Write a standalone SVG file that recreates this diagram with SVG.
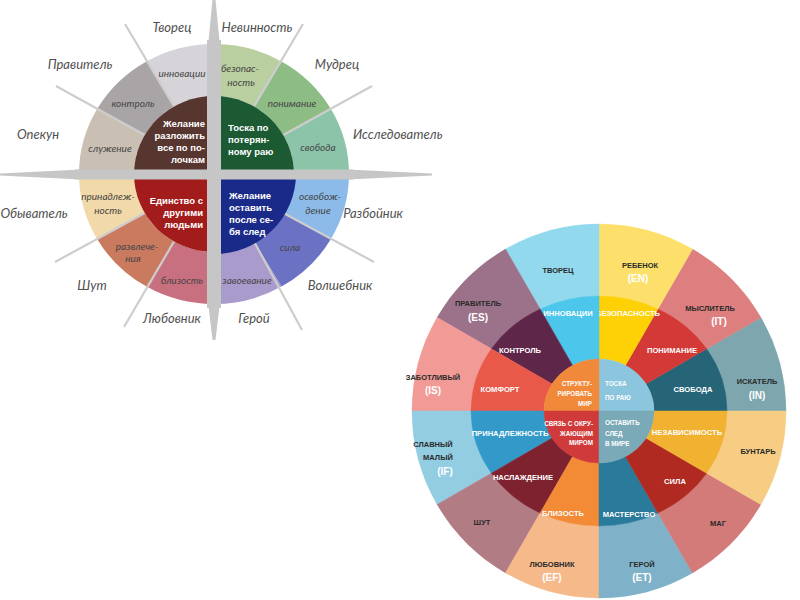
<svg xmlns="http://www.w3.org/2000/svg" width="800" height="600" viewBox="0 0 800 600">
<style>
.lo{font-family:Lato,"Open Sans","DejaVu Sans",sans-serif;font-style:italic;font-size:13px;fill:#505050;text-anchor:middle}
.li{font-family:Lato,"Open Sans","DejaVu Sans",sans-serif;font-style:italic;font-size:10px;fill:#454545;text-anchor:middle}
.lc{font-family:"Liberation Sans",Arial,sans-serif;font-weight:bold;font-size:9.5px;fill:#fff}
.ro{font-family:"Liberation Sans",Arial,sans-serif;font-weight:bold;font-size:7.5px;fill:#2a2a2a;text-anchor:middle}
.rc{font-family:"Liberation Sans",Arial,sans-serif;font-weight:bold;font-size:10px;fill:#fff;text-anchor:middle}
.rm{font-family:"Liberation Sans",Arial,sans-serif;font-weight:bold;font-size:7.6px;fill:#fff;text-anchor:middle}
.rx{font-family:"Liberation Sans",Arial,sans-serif;font-weight:bold;font-size:6.3px;fill:#fff}
.bar{fill:#c6c6c6}
.spoke{stroke:#cdcdcd;stroke-width:2.2;fill:none}
</style>
<rect width="800" height="600" fill="#fff"/>

<g id="left-wheel">
  <g id="cross">
    <polygon class="bar" points="208,46 220,46 215.5,0 212.5,0"/>
    <polygon class="bar" points="208,302 220,302 215.5,340 212.5,340"/>
    <polygon class="bar" points="81,169.5 81,179.5 0,175.5 0,173.5"/>
    <polygon class="bar" points="347,169.5 347,179.5 432,175.5 432,173.5"/>
  </g>
  <g id="l-sluzhenie"><path d="M97.1 109 A135 130 0 0 0 79 174 L134 174 A80 78 0 0 1 144.7 135 Z" fill="#c9bfb3"/><text class="li" x="110" y="151.5">служение</text></g>
  <g id="l-kontrol"><path d="M146.5 61.4 A135 130 0 0 0 97.1 109 L144.7 135 A80 78 0 0 1 174 106.5 Z" fill="#a9a5a7"/><text class="li" x="133" y="106.5">контроль</text></g>
  <g id="l-innovacii"><path d="M214 44 A135 130 0 0 0 146.5 61.4 L174 106.5 A80 78 0 0 1 214 96 Z" fill="#d6d4d8"/><text class="li" x="182" y="76.5">инновации</text></g>
  <g id="l-bezopasnost"><path d="M281.5 61.4 A135 130 0 0 0 214 44 L214 96 A80 78 0 0 1 254 106.5 Z" fill="#bacf9f"/><text class="li" x="240" y="71.5">безопас-</text><text class="li" x="241" y="85.5">ность</text></g>
  <g id="l-ponimanie"><path d="M330.9 109 A135 130 0 0 0 281.5 61.4 L254 106.5 A80 78 0 0 1 283.3 135 Z" fill="#8dbc84"/><text class="li" x="292" y="106.5">понимание</text></g>
  <g id="l-svoboda"><path d="M349 174 A135 130 0 0 0 330.9 109 L283.3 135 A80 78 0 0 1 294 174 Z" fill="#8cc4a9"/><text class="li" x="318" y="150.5">свобода</text></g>
  <g id="l-osvobozhdenie"><path d="M330.9 239 A135 130 0 0 0 349 174 L294 174 A80 78 0 0 1 283.3 213 Z" fill="#8cbbe9"/><text class="li" x="320" y="200">освобож-</text><text class="li" x="318" y="213.5">дение</text></g>
  <g id="l-sila"><path d="M281.5 286.6 A135 130 0 0 0 330.9 239 L283.3 213 A80 78 0 0 1 254 241.5 Z" fill="#6b72c3"/><text class="li" x="290" y="250.5">сила</text></g>
  <g id="l-zavoevanie"><path d="M214 304 A135 130 0 0 0 281.5 286.6 L254 241.5 A80 78 0 0 1 214 252 Z" fill="#a99bcc"/><text class="li" x="247" y="283.5">завоевание</text></g>
  <g id="l-blizost"><path d="M146.5 286.6 A135 130 0 0 0 214 304 L214 252 A80 78 0 0 1 174 241.5 Z" fill="#c8707f"/><text class="li" x="182" y="283.5">близость</text></g>
  <g id="l-razvlecheniya"><path d="M97.1 239 A135 130 0 0 0 146.5 286.6 L174 241.5 A80 78 0 0 1 144.7 213 Z" fill="#c97a5f"/><text class="li" x="137" y="249.5">развлече-</text><text class="li" x="133" y="262">ния</text></g>
  <g id="l-prinadlezhnost"><path d="M79 174 A135 130 0 0 0 97.1 239 L144.7 213 A80 78 0 0 1 134 174 Z" fill="#f2d9a9"/><text class="li" x="108" y="200">принадлеж-</text><text class="li" x="108" y="213.5">ность</text></g>

  <g id="spokes">
    <line class="spoke" x1="283.3" y1="135" x2="372" y2="86"/>
    <line class="spoke" x1="254" y1="106.5" x2="303" y2="24"/>
    <line class="spoke" x1="174" y1="106.5" x2="125" y2="24"/>
    <line class="spoke" x1="144.7" y1="135" x2="56" y2="86"/>
    <line class="spoke" x1="144.7" y1="213" x2="55" y2="262"/>
    <line class="spoke" x1="174" y1="241.5" x2="124" y2="327"/>
    <line class="spoke" x1="254" y1="241.5" x2="302" y2="330"/>
    <line class="spoke" x1="283.3" y1="213" x2="374" y2="262"/>
  </g>

  <g id="l-core-tl"><path d="M214 174 L134 174 A80 78 0 0 1 214 96 Z" fill="#573630"/>
    <text class="lc" text-anchor="end" x="205" y="127">Желание</text><text class="lc" text-anchor="end" x="205" y="139">разложить</text><text class="lc" text-anchor="end" x="205" y="151">все по по-</text><text class="lc" text-anchor="end" x="205" y="163">лочкам</text></g>
  <g id="l-core-tr"><path d="M214 174 L214 96 A80 78 0 0 1 294 174 Z" fill="#1b5a33"/>
    <text class="lc" x="228" y="131">Тоска по</text><text class="lc" x="228" y="143">потерян-</text><text class="lc" x="228" y="155">ному раю</text></g>
  <g id="l-core-br"><path d="M214 174 L296 174 A82 80 0 0 1 214 254 Z" fill="#1a2a88"/>
    <text class="lc" x="229" y="199">Желание</text><text class="lc" x="229" y="211">оставить</text><text class="lc" x="229" y="223">после се-</text><text class="lc" x="229" y="235">бя след</text></g>
  <g id="l-core-bl"><path d="M214 174 L214 252 A80 78 0 0 1 134 174 Z" fill="#a31c1c"/>
    <text class="lc" text-anchor="end" x="203" y="204">Единство с</text><text class="lc" text-anchor="end" x="203" y="216">другими</text><text class="lc" text-anchor="end" x="203" y="228">людьми</text></g>

  <g id="cross-inner">
    <rect class="bar" x="207" y="40" width="14" height="268"/>
    <rect class="bar" x="75" y="169.5" width="278" height="10"/>
  </g>

  <g id="l-labels">
    <text class="lo" x="172" y="31.5">Творец</text>
    <text class="lo" x="257" y="31.5">Невинность</text>
    <text class="lo" x="80" y="68.5">Правитель</text>
    <text class="lo" x="337" y="68.5">Мудрец</text>
    <text class="lo" x="38" y="138.5">Опекун</text>
    <text class="lo" style="text-anchor:start" x="353" y="138.5">Исследователь</text>
    <text class="lo" x="34" y="217.5">Обыватель</text>
    <text class="lo" x="373" y="217.5">Разбойник</text>
    <text class="lo" x="92" y="289.5">Шут</text>
    <text class="lo" x="340" y="289.5">Волшебник</text>
    <text class="lo" x="172" y="322.5">Любовник</text>
    <text class="lo" x="254" y="322.5">Герой</text>
  </g>
</g>

<g id="right-wheel">
  <g id="r-iskatel"><path d="M786 411 A187 187 0 0 0 760.9 317.5 L706.7 348.8 A128 115 0 0 1 727 411 Z" fill="#7ea6ae" stroke="#7ea6ae" stroke-width="0.5"/><text class="ro" x="757" y="383.7">ИСКАТЕЛЬ</text><text class="rc" x="757" y="398.6">(IN)</text></g>
  <g id="r-myslitel"><path d="M760.9 317.5 A187 187 0 0 0 692.5 249.1 L657.9 308.9 A128 115 0 0 1 706.7 348.8 Z" fill="#de7f7f" stroke="#de7f7f" stroke-width="0.5"/><text class="ro" x="710" y="310.7">МЫСЛИТЕЛЬ</text><text class="rc" x="719" y="324.6">(IT)</text></g>
  <g id="r-rebenok"><path d="M692.5 249.1 A187 187 0 0 0 599 224 L599 296 A128 115 0 0 1 657.9 308.9 Z" fill="#fde06c" stroke="#fde06c" stroke-width="0.5"/><text class="ro" x="640" y="267.7">РЕБЕНОК</text><text class="rc" x="638" y="281.6">(EN)</text></g>
  <g id="r-tvorec"><path d="M599 224 A187 187 0 0 0 505.5 249.1 L540.1 308.9 A128 115 0 0 1 599 296 Z" fill="#92d9ee" stroke="#92d9ee" stroke-width="0.5"/><text class="ro" x="558" y="272.7">ТВОРЕЦ</text></g>
  <g id="r-pravitel"><path d="M505.5 249.1 A187 187 0 0 0 437.1 317.5 L491.3 348.8 A128 115 0 0 1 540.1 308.9 Z" fill="#9b7289" stroke="#9b7289" stroke-width="0.5"/><text class="ro" x="478" y="305.7">ПРАВИТЕЛЬ</text><text class="rc" x="478" y="320.6">(ES)</text></g>
  <g id="r-zabotlivyi"><path d="M437.1 317.5 A187 187 0 0 0 412 411 L471 411 A128 115 0 0 1 491.3 348.8 Z" fill="#f19a96" stroke="#f19a96" stroke-width="0.5"/><text class="ro" x="433" y="379.7">ЗАБОТЛИВЫЙ</text><text class="rc" x="433" y="393.6">(IS)</text></g>
  <g id="r-slavnyi"><path d="M412 411 A187 187 0 0 0 437.1 504.5 L491.3 473.2 A128 115 0 0 1 471 411 Z" fill="#92cde2" stroke="#92cde2" stroke-width="0.5"/><text class="ro" x="433" y="446.7">СЛАВНЫЙ</text><text class="ro" x="438" y="459.7">МАЛЫЙ</text><text class="rc" x="445" y="474.6">(IF)</text></g>
  <g id="r-shut"><path d="M437.1 504.5 A187 187 0 0 0 505.5 572.9 L540.1 513.1 A128 115 0 0 1 491.3 473.2 Z" fill="#b27c84" stroke="#b27c84" stroke-width="0.5"/><text class="ro" x="482" y="524.7">ШУТ</text></g>
  <g id="r-lyubovnik"><path d="M505.5 572.9 A187 187 0 0 0 599 598 L599 526 A128 115 0 0 1 540.1 513.1 Z" fill="#f6b98a" stroke="#f6b98a" stroke-width="0.5"/><text class="ro" x="552" y="566.7">ЛЮБОВНИК</text><text class="rc" x="552" y="580.6">(EF)</text></g>
  <g id="r-geroi"><path d="M599 598 A187 187 0 0 0 692.5 572.9 L657.9 513.1 A128 115 0 0 1 599 526 Z" fill="#7fb2c8" stroke="#7fb2c8" stroke-width="0.5"/><text class="ro" x="642" y="566.7">ГЕРОЙ</text><text class="rc" x="642" y="580.6">(ET)</text></g>
  <g id="r-mag"><path d="M692.5 572.9 A187 187 0 0 0 760.9 504.5 L706.7 473.2 A128 115 0 0 1 657.9 513.1 Z" fill="#d37b78" stroke="#d37b78" stroke-width="0.5"/><text class="ro" x="718" y="525.7">МАГ</text></g>
  <g id="r-buntar"><path d="M760.9 504.5 A187 187 0 0 0 786 411 L727 411 A128 115 0 0 1 706.7 473.2 Z" fill="#f6cd82" stroke="#f6cd82" stroke-width="0.5"/><text class="ro" x="758" y="453.7">БУНТАРЬ</text></g>

  <g id="r-svoboda"><path d="M727 411 A128 115 0 0 0 706.7 348.8 L645.9 383.9 A55 52 0 0 1 654 411 Z" fill="#256577" stroke="#256577" stroke-width="0.5"/><text class="rm" x="693" y="392">СВОБОДА</text></g>
  <g id="r-ponimanie"><path d="M706.7 348.8 A128 115 0 0 0 657.9 308.9 L625.4 365.4 A55 52 0 0 1 645.9 383.9 Z" fill="#d33a37" stroke="#d33a37" stroke-width="0.5"/><text class="rm" x="672" y="353">ПОНИМАНИЕ</text></g>
  <g id="r-bezopasnost"><path d="M657.9 308.9 A128 115 0 0 0 599 296 L599 359 A55 52 0 0 1 625.4 365.4 Z" fill="#fdd106" stroke="#fdd106" stroke-width="0.5"/><text class="rm" x="628" y="316">БЕЗОПАСНОСТЬ</text></g>
  <g id="r-innovacii"><path d="M599 296 A128 115 0 0 0 540.1 308.9 L572.6 365.4 A55 52 0 0 1 599 359 Z" fill="#4cc6ea" stroke="#4cc6ea" stroke-width="0.5"/><text class="rm" x="568" y="316">ИННОВАЦИИ</text></g>
  <g id="r-kontrol"><path d="M540.1 308.9 A128 115 0 0 0 491.3 348.8 L552.1 383.9 A55 52 0 0 1 572.6 365.4 Z" fill="#5e2648" stroke="#5e2648" stroke-width="0.5"/><text class="rm" x="520" y="353">КОНТРОЛЬ</text></g>
  <g id="r-komfort"><path d="M491.3 348.8 A128 115 0 0 0 471 411 L544 411 A55 52 0 0 1 552.1 383.9 Z" fill="#e9594a" stroke="#e9594a" stroke-width="0.5"/><text class="rm" x="500" y="392">КОМФОРТ</text></g>
  <g id="r-prinadlezhnost"><path d="M471 411 A128 115 0 0 0 491.3 473.2 L552.1 438.1 A55 52 0 0 1 544 411 Z" fill="#3399c9" stroke="#3399c9" stroke-width="0.5"/><text class="rm" x="510" y="436">ПРИНАДЛЕЖНОСТЬ</text></g>
  <g id="r-naslazhdenie"><path d="M491.3 473.2 A128 115 0 0 0 540.1 513.1 L572.6 456.6 A55 52 0 0 1 552.1 438.1 Z" fill="#7f2230" stroke="#7f2230" stroke-width="0.5"/><text class="rm" x="523" y="480">НАСЛАЖДЕНИЕ</text></g>
  <g id="r-blizost"><path d="M540.1 513.1 A128 115 0 0 0 599 526 L599 463 A55 52 0 0 1 572.6 456.6 Z" fill="#f28a36" stroke="#f28a36" stroke-width="0.5"/><text class="rm" x="563" y="516">БЛИЗОСТЬ</text></g>
  <g id="r-masterstvo"><path d="M599 526 A128 115 0 0 0 657.9 513.1 L625.4 456.6 A55 52 0 0 1 599 463 Z" fill="#2a7a9c" stroke="#2a7a9c" stroke-width="0.5"/><text class="rm" x="629" y="517">МАСТЕРСТВО</text></g>
  <g id="r-sila"><path d="M657.9 513.1 A128 115 0 0 0 706.7 473.2 L645.9 438.1 A55 52 0 0 1 625.4 456.6 Z" fill="#b12a22" stroke="#b12a22" stroke-width="0.5"/><text class="rm" x="675" y="484">СИЛА</text></g>
  <g id="r-nezavisimost"><path d="M706.7 473.2 A128 115 0 0 0 727 411 L654 411 A55 52 0 0 1 645.9 438.1 Z" fill="#f1b131" stroke="#f1b131" stroke-width="0.5"/><text class="rm" x="687" y="435">НЕЗАВИСИМОСТЬ</text></g>

  <g id="r-toska"><path d="M599 411 L654 411 A55 52 0 0 0 599 359 Z" fill="#8bc6de" stroke="#8bc6de" stroke-width="0.5"/><text class="rx" x="605" y="386.3">ТОСКА</text><text class="rx" x="605" y="400.3">ПО РАЮ</text></g>
  <g id="r-struktur"><path d="M599 411 L599 359 A55 52 0 0 0 544 411 Z" fill="#f08a3a" stroke="#f08a3a" stroke-width="0.5"/><text class="rx" text-anchor="end" x="592" y="386.3">СТРУКТУ-</text><text class="rx" text-anchor="end" x="592" y="396.3">РИРОВАТЬ</text><text class="rx" text-anchor="end" x="592" y="405.6">МИР</text></g>
  <g id="r-svyaz"><path d="M599 411 L544 411 A55 52 0 0 0 599 463 Z" fill="#d13a3a" stroke="#d13a3a" stroke-width="0.5"/><text class="rx" text-anchor="end" x="593" y="426.3">СВЯЗЬ С ОКРУ-</text><text class="rx" text-anchor="end" x="593" y="436.3">ЖАЮЩИМ</text><text class="rx" text-anchor="end" x="593" y="445.3">МИРОМ</text></g>
  <g id="r-ostavit"><path d="M599 411 L599 463 A55 52 0 0 0 654 411 Z" fill="#7aa9b8" stroke="#7aa9b8" stroke-width="0.5"/><text class="rx" x="605" y="425.3">ОСТАВИТЬ</text><text class="rx" x="605" y="436.3">СЛЕД</text><text class="rx" x="605" y="446.3">В МИРЕ</text></g>
</g>
</svg>
